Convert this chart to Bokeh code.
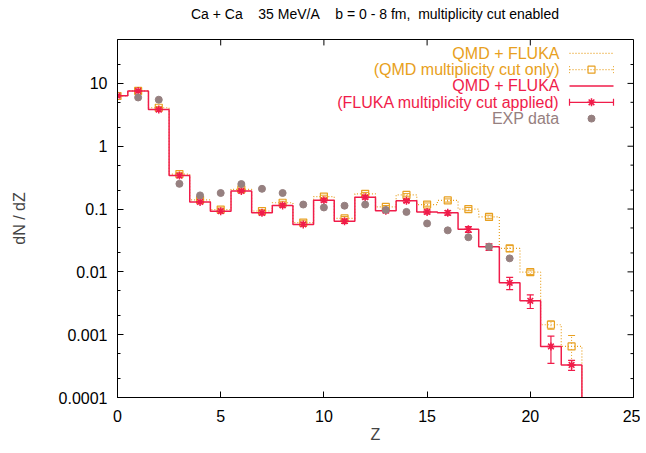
import numpy as np
from bokeh.plotting import figure
from bokeh.layouts import column
from bokeh.models import (FixedTicker, CustomJSTickFormatter, Range1d, Div,
                          ColumnDataSource, Whisker, TeeHead)
from bokeh.core.properties import value
from bokeh.embed import file_html
from bokeh.resources import INLINE

# ---------------- data ----------------
Z = list(range(23))
qmd_cut = [6.3, 7.6, 4.1, 0.36, 0.14, 0.098, 0.206, 0.093, 0.126, 0.061, 0.158, 0.071,
           0.175, 0.108, 0.168, 0.118, 0.137, 0.100, 0.075, 0.0236, 0.0099, 0.00144, 0.00065]
qmd_err = [0.25, 0.3, 0.2, 0.02, 0.008, 0.006, 0.01, 0.006, 0.007, 0.004, 0.008, 0.005,
           0.009, 0.006, 0.008, 0.007, 0.008, 0.006, 0.005, 0.0026, 0.0008, 0.00022, 0.00032]
fluka_cut = [6.36, 7.6, 3.83, 0.341, 0.13, 0.0925, 0.194, 0.087, 0.114, 0.057, 0.138, 0.064,
             0.154, 0.094, 0.135, 0.090, 0.087, 0.0475, 0.025, 0.0067, 0.00346, 0.00065, 0.00033]
fluka_err = [0.25, 0.3, 0.2, 0.02, 0.008, 0.006, 0.01, 0.006, 0.007, 0.004, 0.008, 0.005,
             0.009, 0.006, 0.008, 0.006, 0.007, 0.005, 0.003, 0.0015, 0.00085, 0.0003, 0.00006]
exp_Z = list(range(1, 20))
exp_val = [5.97, 5.5, 0.252, 0.165, 0.18, 0.25, 0.21, 0.18, 0.118, 0.106, 0.113, 0.118,
           0.097, 0.09, 0.059, 0.0458, 0.0356, 0.025, 0.0164]

x_ticks = [0, 5, 10, 15, 20, 25]
y_ticks = [1e-4, 1e-3, 1e-2, 0.1, 1, 10]
y_minor = [2e-4, 5e-4, 2e-3, 5e-3, 2e-2, 5e-2, 0.2, 0.5, 2, 5, 20]

NB = "\u00a0"
title_text = ("Ca + Ca" + NB * 4 + "35 MeV/A" + NB * 4 + "b = 0 - 8 fm," + NB * 2 +
              "multiplicity cut enabled")
legend_labels = ["QMD + FLUKA", "(QMD multiplicity cut only)", "QMD + FLUKA",
                 "(FLUKA multiplicity cut applied)", "EXP data"]

ORANGE = "#e8a020"
RED = "#f01c4a"
GREY = "#968080"
FONT = "Liberation Sans"

XMIN, XMAX = 0, 25
YBOT, YTOP = 1e-4, 50

W, H = 640, 445
L, R, T, B = 117, 633, 39, 401   # frame edges in page pixels
DIV_H = 28                       # title strip above the figure

title_div = Div(text=title_text, width=R - L, height=DIV_H, margin=(0, 0, 0, L),
                styles={"font-family": FONT, "font-size": "14px", "line-height": f"{DIV_H}px",
                        "text-align": "center", "color": "black", "white-space": "nowrap"})

FH = H - DIV_H
p = figure(width=W, height=FH, x_range=Range1d(XMIN, XMAX), y_range=Range1d(YBOT, YTOP),
           y_axis_type="log", output_backend="svg", toolbar_location=None,
           min_border_left=L, min_border_right=W - R,
           min_border_top=T - DIV_H, min_border_bottom=H - B, margin=(0, 0, 0, 0))
p.grid.visible = False
p.outline_line_color = "black"
p.outline_line_width = 1
p.background_fill_color = "white"
p.border_fill_color = "white"

def style_axis(ax):
    ax.axis_line_color = "black"
    ax.major_tick_in = 6
    ax.major_tick_out = 0
    ax.minor_tick_in = 3
    ax.minor_tick_out = 0
    ax.major_tick_line_color = "black"
    ax.minor_tick_line_color = "black"
    ax.major_label_text_font = FONT
    ax.major_label_text_font_size = "16px"
    ax.major_label_text_color = "black"
    ax.axis_label_text_font = FONT
    ax.axis_label_text_font_size = "16px"
    ax.axis_label_text_font_style = "normal"

xticker = FixedTicker(ticks=x_ticks, minor_ticks=[])
yticker = FixedTicker(ticks=y_ticks, minor_ticks=y_minor)
yfmt = CustomJSTickFormatter(code="return tick.toString();")

xa = p.xaxis[0]
xa.ticker = xticker
xa.axis_label = "Z"
style_axis(xa)
xa.major_label_standoff = 12
xa.axis_label_standoff = 1

ya = p.yaxis[0]
ya.ticker = yticker
ya.formatter = yfmt
ya.axis_label = "dN / dZ"
style_axis(ya)
ya.major_label_standoff = 10
ya.axis_label_standoff = 28

# ---------------- pixel <-> data helpers (relative to the frame) ----------------
def dx(px):
    return XMIN + (px - L) / (R - L) * (XMAX - XMIN)

def dy(py):
    lt, lb = np.log10(YTOP), np.log10(YBOT)
    return 10 ** (lt - (py - T) / (B - T) * (lt - lb))

# mirrored inward ticks on top and right border (gnuplot style)
p.segment(x_ticks, [YTOP] * len(x_ticks), x_ticks, [dy(T + 6)] * len(x_ticks),
          line_color="black", line_width=1)
p.segment([dx(R - 6)] * len(y_ticks), y_ticks, [XMAX] * len(y_ticks), y_ticks,
          line_color="black", line_width=1)
p.segment([dx(R - 3)] * len(y_minor), y_minor, [XMAX] * len(y_minor), y_minor,
          line_color="black", line_width=1)

# ---------------- histogram steps (histeps style) ----------------
def histeps(zs, vs):
    xs, ys = [], []
    for z, v in zip(zs, vs):
        xs += [z - 0.5, z + 0.5]
        ys += [v, v]
    xs.append(zs[-1] + 0.5)
    ys.append(YBOT * 0.01)
    return xs, ys

ox, oy = histeps(Z, qmd_cut)
p.line(ox, oy, line_color=ORANGE, line_width=1.2, line_dash="1 2")
osrc = ColumnDataSource(dict(x=Z, y=qmd_cut,
                             lo=[v - e for v, e in zip(qmd_cut, qmd_err)],
                             hi=[v + e for v, e in zip(qmd_cut, qmd_err)]))
p.add_layout(Whisker(source=osrc, base="x", lower="lo", upper="hi", dimension="height",
                     line_color=ORANGE, line_width=1, line_dash="1 2",
                     upper_head=TeeHead(size=7, line_color=ORANGE, line_width=1),
                     lower_head=TeeHead(size=7, line_color=ORANGE, line_width=1)))
p.scatter("x", "y", source=osrc, marker="square", size=7, fill_color=None,
          line_color=ORANGE, line_width=1.2)

rx, ry = histeps(Z, fluka_cut)
p.line(rx, ry, line_color=RED, line_width=1.5)
rsrc = ColumnDataSource(dict(x=Z, y=fluka_cut,
                             lo=[v - e for v, e in zip(fluka_cut, fluka_err)],
                             hi=[v + e for v, e in zip(fluka_cut, fluka_err)]))
p.add_layout(Whisker(source=rsrc, base="x", lower="lo", upper="hi", dimension="height",
                     line_color=RED, line_width=1.2,
                     upper_head=TeeHead(size=7, line_color=RED, line_width=1.2),
                     lower_head=TeeHead(size=7, line_color=RED, line_width=1.2)))
p.scatter("x", "y", source=rsrc, marker="asterisk", size=8, line_color=RED, line_width=1.5)

p.scatter(exp_Z, exp_val, marker="circle", size=7, fill_color=GREY, line_color=GREY)

# ---------------- gnuplot-style key ----------------
rows = [53, 69.5, 86, 102.5, 119]
colors = [ORANGE, ORANGE, RED, RED, GREY]
p.text([dx(559)] * 5, [dy(r) for r in rows], text=legend_labels,
       text_color=colors, text_align="right", text_baseline="middle",
       text_font=value(FONT), text_font_size="16px")

s0, s1, sc = 569, 613, 591
p.line([dx(s0), dx(s1)], [dy(rows[0])] * 2, line_color=ORANGE, line_width=1.2, line_dash="1 2")
p.line([dx(s0), dx(s1)], [dy(rows[1])] * 2, line_color=ORANGE, line_width=1.2, line_dash="1 2")
p.segment([dx(s0), dx(s1)], [dy(rows[1] - 3.5)] * 2, [dx(s0), dx(s1)], [dy(rows[1] + 3.5)] * 2,
          line_color=ORANGE, line_width=1, line_dash="1 2")
p.scatter([dx(sc)], [dy(rows[1])], marker="square", size=7, fill_color=None,
          line_color=ORANGE, line_width=1.2)
p.line([dx(s0), dx(s1)], [dy(rows[2])] * 2, line_color=RED, line_width=1.5)
p.line([dx(s0), dx(s1)], [dy(rows[3])] * 2, line_color=RED, line_width=1.2)
p.segment([dx(s0), dx(s1)], [dy(rows[3] - 3.5)] * 2, [dx(s0), dx(s1)], [dy(rows[3] + 3.5)] * 2,
          line_color=RED, line_width=1.2)
p.scatter([dx(sc)], [dy(rows[3])], marker="asterisk", size=8, line_color=RED, line_width=1.5)
p.scatter([dx(sc)], [dy(rows[4])], marker="circle", size=7, fill_color=GREY, line_color=GREY)

layout = column(title_div, p, spacing=0)
open("out.html", "w").write(file_html(layout, INLINE))
